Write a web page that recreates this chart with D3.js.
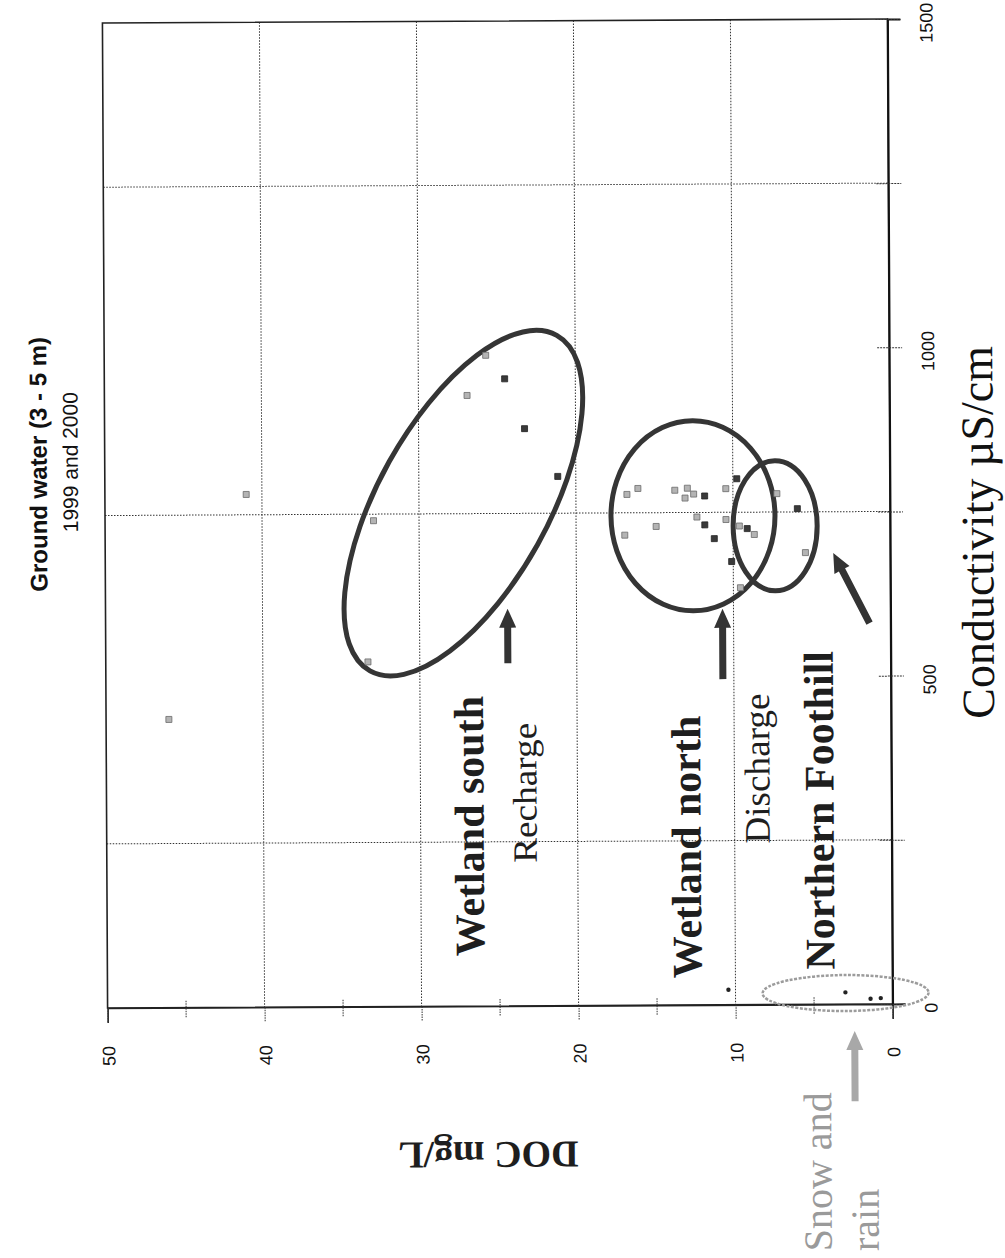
<!DOCTYPE html>
<html>
<head>
<meta charset="utf-8">
<script src="https://cdn.jsdelivr.net/npm/d3@7"></script>
<style>
  html, body { margin: 0; padding: 0; background: #fff; }
  svg { display: block; }
</style>
</head>
<body>
<svg id="chart" width="1005" height="1258"></svg>
<script>
// Ground water samples, each entry is [conductivity µS/cm, DOC mg/L]
const samples1999 = [
  [991, 25.7], [930, 26.9], [740, 32.9], [525, 33.3], [781, 41.0], [439, 46.0],
  [778, 16.75], [787, 16.05], [784, 13.7], [787, 12.9], [772, 13.05], [778, 12.5],
  [786, 10.45], [743, 12.3], [739, 10.45], [729, 14.9], [716, 16.9], [635, 9.55],
  [729, 9.6], [716, 8.65], [778, 7.2], [688, 5.4]
];
const samples2000 = [
  [955, 24.5], [879, 23.25], [806, 21.15], [775, 11.8], [731, 11.8], [710, 11.2],
  [675, 10.1], [801, 9.75], [725, 9.1], [755, 5.9]
];
// Snow and rain samples
const precipitation = [[18, 3.0], [8, 1.4], [9, 0.75], [23, 10.45]];

const docTicks = [0, 10, 20, 30, 40, 50];
const docMinorTicks = [5, 15, 25, 35, 45];
const docGrid = [10, 20, 30, 40];
const condTicks = [0, 250, 500, 750, 1000, 1250, 1500];
const condLabels = [0, 500, 1000, 1500];
const condGrid = [250, 750, 1250];

const svg = d3.select("#chart");
const root = svg.append("g").attr("transform", "rotate(-0.3, 497, 513)");

// Page is laid out sideways: DOC runs right-to-left, conductivity runs upward
const x = d3.scaleLinear().domain([0, 50]).range([890, 105]);
const y = d3.scaleLinear().domain([0, 1500]).range([1006, 21]);

const serif = "'Liberation Serif', 'Times New Roman', serif";
const sans = "'Liberation Sans', Arial, sans-serif";

// Grid
const grid = root.append("g").attr("stroke", "#333").attr("stroke-width", 1)
  .attr("stroke-dasharray", "1.5 1.5");
grid.selectAll("line.v").data(docGrid).join("line").attr("class", "v")
  .attr("x1", d => x(d)).attr("x2", d => x(d)).attr("y1", y(1500)).attr("y2", y(0));
grid.selectAll("line.h").data(condGrid).join("line").attr("class", "h")
  .attr("x1", x(50)).attr("x2", x(0)).attr("y1", d => y(d)).attr("y2", d => y(d));

// Plot frame
root.append("rect")
  .attr("x", x(50)).attr("y", y(1500))
  .attr("width", x(0) - x(50)).attr("height", y(0) - y(1500))
  .attr("fill", "none").attr("stroke", "#222").attr("stroke-width", 1.6);

// DOC axis (bottom)
const docAxis = root.append("g").attr("transform", `translate(0,${y(0)})`)
  .call(d3.axisBottom(x).tickValues(docTicks).tickSize(15).tickFormat(d3.format("d")));
docAxis.select(".domain").attr("stroke", "#222").attr("stroke-width", 1.6);
docAxis.selectAll(".tick line").attr("stroke", "#333").attr("stroke-dasharray", "1.5 1");
docAxis.selectAll(".tick text")
  .attr("x", 0).attr("y", 0).attr("dy", 0)
  .attr("transform", "translate(7,48) rotate(-90)")
  .attr("text-anchor", "middle")
  .attr("font-family", sans).attr("font-size", 18).attr("fill", "#111");
root.append("g").selectAll("line").data(docMinorTicks).join("line")
  .attr("x1", d => x(d)).attr("x2", d => x(d))
  .attr("y1", y(0) - 7).attr("y2", y(0) + 10)
  .attr("stroke", "#333").attr("stroke-dasharray", "1.5 1");

// Conductivity axis (right)
const condAxis = root.append("g").attr("transform", `translate(${x(0)},0)`)
  .call(d3.axisRight(y).tickValues(condTicks).tickSize(13).tickFormat(""));
condAxis.select(".domain").attr("stroke", "#111").attr("stroke-width", 2);
condAxis.selectAll(".tick line").attr("x1", -12).attr("stroke", "#333")
  .attr("stroke-dasharray", "2 1");
root.append("g").selectAll("text").data(condLabels).join("text")
  .attr("transform", d => `translate(${x(0) + 45},${y(d) + 4}) rotate(-90)`)
  .attr("text-anchor", "middle")
  .attr("font-family", sans).attr("font-size", 18).attr("fill", "#111")
  .text(d => d);

// Group outlines
const outlines = [
  { doc: 27.17, cond: 766, rx: 192, ry: 85, angle: -60.6 },
  { doc: 12.55, cond: 745, rx: 82, ry: 95, angle: 0 },
  { doc: 7.32, cond: 729, rx: 42, ry: 65, angle: 0 }
];
root.append("g").selectAll("ellipse").data(outlines).join("ellipse")
  .attr("transform", d => `translate(${x(d.doc)},${y(d.cond)}) rotate(${d.angle})`)
  .attr("rx", d => d.rx).attr("ry", d => d.ry)
  .attr("fill", "none").attr("stroke", "#353535").attr("stroke-width", 5);

// Snow and rain outline
root.append("ellipse")
  .attr("cx", x(2.99)).attr("cy", y(17)).attr("rx", 83).attr("ry", 18)
  .attr("fill", "none").attr("stroke", "#9c9c9c").attr("stroke-width", 2.5)
  .attr("stroke-dasharray", "3 1.5");

// Arrows
function arrowPath(x1, y1, x2, y2, sw, hw, hl) {
  const dx = x2 - x1, dy = y2 - y1, L = Math.hypot(dx, dy);
  const ux = dx / L, uy = dy / L, px = -uy, py = ux;
  const bx = x2 - ux * hl, by = y2 - uy * hl;
  const pts = [
    [x1 + px * sw / 2, y1 + py * sw / 2],
    [bx + px * sw / 2, by + py * sw / 2],
    [bx + px * hw / 2, by + py * hw / 2],
    [x2, y2],
    [bx - px * hw / 2, by - py * hw / 2],
    [bx - px * sw / 2, by - py * sw / 2],
    [x1 - px * sw / 2, y1 - py * sw / 2]
  ];
  return "M" + pts.map(p => p.join(",")).join("L") + "Z";
}
const arrows = [
  { from: [24.39, 522], to: [24.39, 605], color: "#333" },
  { from: [10.7, 496], to: [10.7, 603], color: "#333" },
  { from: [1.34, 580], to: [3.63, 687], color: "#333" },
  { from: [2.42, -148], to: [2.42, -41], color: "#a8a8a8" }
];
root.append("g").selectAll("path").data(arrows).join("path")
  .attr("d", d => arrowPath(x(d.from[0]), y(d.from[1]), x(d.to[0]), y(d.to[1]), 7, 17, 19))
  .attr("fill", d => d.color);

// Sample markers
const marks = root.append("g");
marks.selectAll("rect.s99").data(samples1999).join("rect").attr("class", "s99")
  .attr("x", d => x(d[1]) - 3).attr("y", d => y(d[0]) - 3)
  .attr("width", 6).attr("height", 6)
  .attr("fill", "#b4b4b4").attr("stroke", "#6a6a6a").attr("stroke-width", 0.8);
marks.selectAll("rect.s00").data(samples2000).join("rect").attr("class", "s00")
  .attr("x", d => x(d[1]) - 3).attr("y", d => y(d[0]) - 3)
  .attr("width", 6).attr("height", 6)
  .attr("fill", "#3a3a3a").attr("stroke", "#222").attr("stroke-width", 0.8);
marks.selectAll("circle").data(precipitation).join("circle")
  .attr("cx", d => x(d[1])).attr("cy", d => y(d[0])).attr("r", 2.2)
  .attr("fill", "#222");

// Text
function vtext(tx, ty, str, opts) {
  const t = root.append("text")
    .attr("transform", `translate(${tx},${ty}) rotate(${opts.rot || -90})`)
    .attr("text-anchor", opts.anchor || "middle")
    .attr("font-family", opts.family || serif)
    .attr("font-size", opts.size)
    .attr("font-weight", opts.weight || "normal")
    .attr("fill", opts.fill || "#1e1e1e")
    .text(str);
  if (opts.length) t.attr("textLength", opts.length).attr("lengthAdjust", "spacingAndGlyphs");
  return t;
}
vtext(47, 462, "Ground water (3 - 5 m)", { family: sans, size: 24, weight: "bold", fill: "#111" });
vtext(78, 460, "1999 and 2000", { family: sans, size: 21, fill: "#111" });
vtext(482, 826, "Wetland south", { size: 42, weight: "bold" });
vtext(535, 793, "Recharge", { size: 34, length: 140 });
vtext(699, 848, "Wetland north", { size: 42, weight: "bold" });
vtext(768, 770, "Discharge", { size: 36, length: 150 });
vtext(832, 812, "Northern Foothill", { size: 42, weight: "bold" });
vtext(993, 535, "Conductivity µS/cm", { size: 46, fill: "#111" });
vtext(485, 1142, "DOC mg/L", { size: 38, weight: "bold", rot: 180 });
vtext(828, 1253, "Snow and", { size: 40, anchor: "start", fill: "#9a9a9a" });
vtext(875, 1253, "rain", { size: 40, anchor: "start", fill: "#9a9a9a" });
</script>
</body>
</html>
